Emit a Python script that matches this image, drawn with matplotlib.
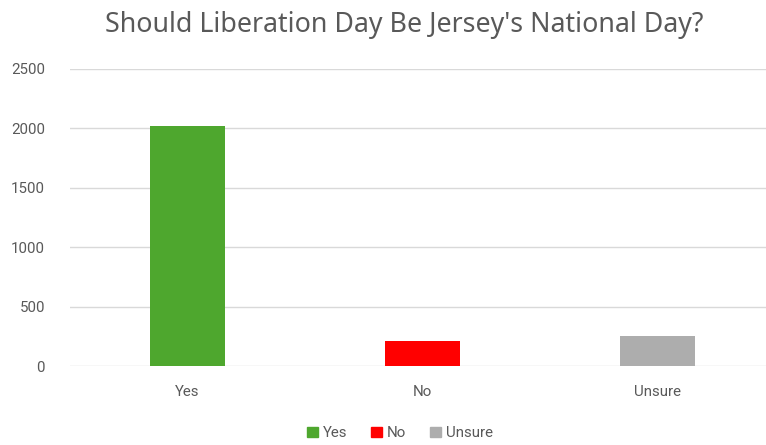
import matplotlib.pyplot as plt
from matplotlib.patches import Patch

categories = ["Yes", "No", "Unsure"]
votes = [2015, 213, 255]
bar_colours = ["#4EA72E", "#FF0000", "#ADADAD"]
y_ticks = [0, 500, 1000, 1500, 2000, 2500]

plt.rcParams['font.family'] = ['Roboto', 'DejaVu Sans']
text_col = "#595959"

fig = plt.figure(figsize=(7.66, 4.45), dpi=100)
ax = fig.add_axes([70/766, 79/445, 705/766, 297.3/445])

x = list(range(len(categories)))
ax.bar(x, votes, width=0.315, color=bar_colours, zorder=2)
ax.set_xlim(-0.5, 2.5)
ax.set_ylim(0, 2500)
ax.set_yticks(y_ticks)
ax.set_xticks(x)
ax.set_xticklabels(categories)

ax.grid(axis="y", color="#D9D9D9", lw=1, zorder=0)
for s in ax.spines.values():
    s.set_visible(False)
ax.tick_params(length=0, labelsize=10.8, labelcolor=text_col)
ax.tick_params(axis="y", pad=18)
ax.tick_params(axis="x", pad=14)

fig.text(404/766, 1 - 25/445, "Should Liberation Day Be Jersey's National Day?",
         ha="center", va="center", fontsize=19.3, fontweight=500, color=text_col,
         family=["Noto Sans", "DejaVu Sans"])

handles = [Patch(color=c, label=l) for c, l in zip(bar_colours, categories)]
fig.legend(handles=handles, loc="center", bbox_to_anchor=(400/766, 1 - 433/445), ncol=3,
           frameon=False, fontsize=10.8, labelcolor=text_col, handlelength=0.7, handleheight=0.7,
           handletextpad=0.35, columnspacing=1.6)

fig.savefig("out.png", dpi=100, facecolor="white")
